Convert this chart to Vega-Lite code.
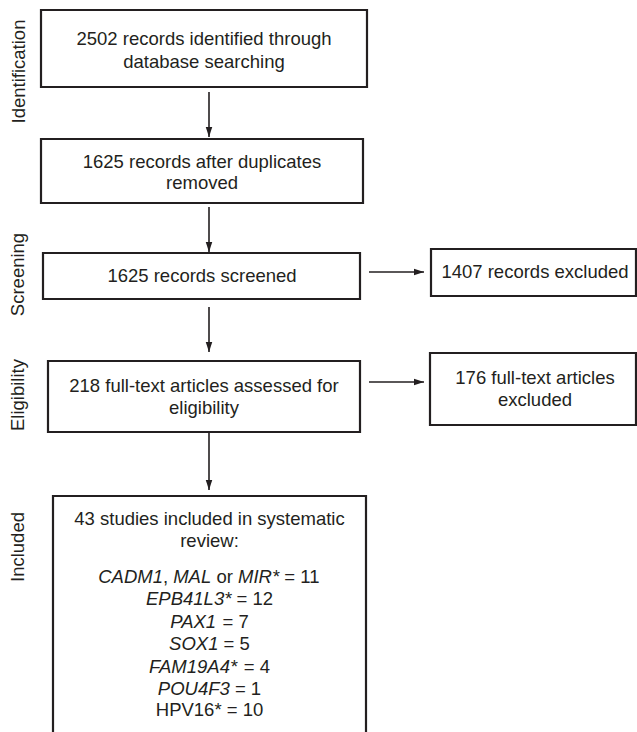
{
  "$schema": "https://vega.github.io/schema/vega-lite/v6.json",
  "width": 637,
  "height": 732,
  "padding": 0,
  "autosize": {"type": "none"},
  "config": {"view": {"stroke": null}},
  "datasets": {
    "boxes": [
      {"box": "identified", "x1": 41, "x2": 367, "y1": 10, "y2": 87},
      {"box": "duplicates removed", "x1": 41, "x2": 363, "y1": 139, "y2": 203},
      {"box": "screened", "x1": 43, "x2": 360, "y1": 253, "y2": 299},
      {"box": "assessed", "x1": 48, "x2": 360, "y1": 361, "y2": 432},
      {"box": "included", "x1": 53, "x2": 366, "y1": 496, "y2": 760},
      {"box": "records excluded", "x1": 431, "x2": 636, "y1": 249, "y2": 296},
      {"box": "articles excluded", "x1": 430, "x2": 636, "y1": 353, "y2": 425}
    ],
    "arrows": [
      {"dir": "down", "x1": 209, "y1": 92, "x2": 209, "y2": 137},
      {"dir": "down", "x1": 209, "y1": 207, "x2": 209, "y2": 252},
      {"dir": "down", "x1": 209, "y1": 307, "x2": 209, "y2": 352},
      {"dir": "down", "x1": 209, "y1": 432, "x2": 209, "y2": 490},
      {"dir": "right", "x1": 369, "y1": 272, "x2": 424, "y2": 272},
      {"dir": "right", "x1": 369, "y1": 382, "x2": 424, "y2": 382}
    ],
    "labels": [
      {"role": "box", "text": "2502 records identified through", "x": 204, "y": 39},
      {"role": "box", "text": "database searching", "x": 204, "y": 62},
      {"role": "box", "text": "1625 records after duplicates", "x": 202, "y": 162},
      {"role": "box", "text": "removed", "x": 202, "y": 183},
      {"role": "box", "text": "1625 records screened", "x": 202, "y": 276},
      {"role": "box", "text": "218 full-text articles assessed for", "x": 204, "y": 386},
      {"role": "box", "text": "eligibility", "x": 204, "y": 408},
      {"role": "box", "text": "1407 records excluded", "x": 535, "y": 272},
      {"role": "box", "text": "176 full-text articles", "x": 535, "y": 378},
      {"role": "box", "text": "excluded", "x": 535, "y": 400},
      {"role": "box", "text": "43 studies included in systematic", "x": 209.5, "y": 519},
      {"role": "box", "text": "review:", "x": 209.5, "y": 541},
      {"role": "box", "text": "HPV16* = 10", "x": 209.5, "y": 710},
      {"role": "stage", "text": "Identification", "x": 18.5, "y": 71.5},
      {"role": "stage", "text": "Screening", "x": 18, "y": 274.5},
      {"role": "stage", "text": "Eligibility", "x": 18, "y": 395},
      {"role": "stage", "text": "Included", "x": 18, "y": 547},
      {"role": "gene", "text": "CADM1", "x": 98.2, "y": 577},
      {"role": "count", "text": ",", "x": 163, "y": 577},
      {"role": "gene", "text": "MAL", "x": 173.2, "y": 577},
      {"role": "count", "text": "or", "x": 216.4, "y": 577},
      {"role": "gene", "text": "MIR*", "x": 238, "y": 577},
      {"role": "count", "text": "= 11", "x": 284.3, "y": 577},
      {"role": "gene", "text": "EPB41L3*", "x": 146, "y": 599},
      {"role": "count", "text": "= 12", "x": 236.5, "y": 599},
      {"role": "gene", "text": "PAX1", "x": 170.2, "y": 622},
      {"role": "count", "text": "= 7", "x": 222.6, "y": 622},
      {"role": "gene", "text": "SOX1", "x": 169.1, "y": 644},
      {"role": "count", "text": "= 5", "x": 223.6, "y": 644},
      {"role": "gene", "text": "FAM19A4*", "x": 149.1, "y": 667},
      {"role": "count", "text": "= 4", "x": 243.7, "y": 667},
      {"role": "gene", "text": "POU4F3", "x": 157.8, "y": 689},
      {"role": "count", "text": "= 1", "x": 234.9, "y": 689}
    ]
  },
  "layer": [
    {
      "data": {"name": "boxes"},
      "mark": {"type": "rect", "fill": "white", "stroke": "#231f20", "strokeWidth": 2.2, "clip": true},
      "encoding": {
        "x": {"field": "x1", "type": "quantitative", "scale": {"domain": [0, 637], "nice": false, "zero": false}, "axis": null},
        "x2": {"field": "x2"},
        "y": {"field": "y1", "type": "quantitative", "scale": {"domain": [0, 732], "nice": false, "zero": false, "reverse": true}, "axis": null},
        "y2": {"field": "y2"}
      }
    },
    {
      "data": {"name": "arrows"},
      "mark": {"type": "rule", "stroke": "#231f20", "strokeWidth": 1.6},
      "encoding": {
        "x": {"field": "x1", "type": "quantitative", "scale": {"domain": [0, 637], "nice": false, "zero": false}, "axis": null},
        "x2": {"field": "x2"},
        "y": {"field": "y1", "type": "quantitative", "scale": {"domain": [0, 732], "nice": false, "zero": false, "reverse": true}, "axis": null},
        "y2": {"field": "y2"}
      }
    },
    {
      "data": {"name": "arrows"},
      "transform": [{"filter": "datum.dir === 'down'"}],
      "mark": {"type": "point", "shape": "M -0.65 -1 L 0.65 -1 L 0 1 Z", "size": 100, "filled": true, "fill": "#231f20", "strokeWidth": 0, "opacity": 1, "yOffset": -5},
      "encoding": {
        "x": {"field": "x2", "type": "quantitative", "scale": {"domain": [0, 637], "nice": false, "zero": false}, "axis": null},
        "y": {"field": "y2", "type": "quantitative", "scale": {"domain": [0, 732], "nice": false, "zero": false, "reverse": true}, "axis": null}
      }
    },
    {
      "data": {"name": "arrows"},
      "transform": [{"filter": "datum.dir === 'right'"}],
      "mark": {"type": "point", "shape": "M -1 -0.65 L 1 0 L -1 0.65 Z", "size": 100, "filled": true, "fill": "#231f20", "strokeWidth": 0, "opacity": 1, "xOffset": -5},
      "encoding": {
        "x": {"field": "x2", "type": "quantitative", "scale": {"domain": [0, 637], "nice": false, "zero": false}, "axis": null},
        "y": {"field": "y2", "type": "quantitative", "scale": {"domain": [0, 732], "nice": false, "zero": false, "reverse": true}, "axis": null}
      }
    },
    {
      "data": {"name": "labels"},
      "transform": [{"filter": "datum.role === 'box'"}],
      "mark": {"type": "text", "font": "Liberation Sans", "fontSize": 18.5, "align": "center", "baseline": "middle", "color": "#231f20"},
      "encoding": {
        "x": {"field": "x", "type": "quantitative", "scale": {"domain": [0, 637], "nice": false, "zero": false}, "axis": null},
        "y": {"field": "y", "type": "quantitative", "scale": {"domain": [0, 732], "nice": false, "zero": false, "reverse": true}, "axis": null},
        "text": {"field": "text"}
      }
    },
    {
      "data": {"name": "labels"},
      "transform": [{"filter": "datum.role === 'stage'"}],
      "mark": {"type": "text", "font": "Liberation Sans", "fontSize": 18.5, "align": "center", "baseline": "middle", "angle": 270, "color": "#231f20"},
      "encoding": {
        "x": {"field": "x", "type": "quantitative", "scale": {"domain": [0, 637], "nice": false, "zero": false}, "axis": null},
        "y": {"field": "y", "type": "quantitative", "scale": {"domain": [0, 732], "nice": false, "zero": false, "reverse": true}, "axis": null},
        "text": {"field": "text"}
      }
    },
    {
      "data": {"name": "labels"},
      "transform": [{"filter": "datum.role === 'gene'"}],
      "mark": {"type": "text", "font": "Liberation Sans", "fontSize": 18.5, "fontStyle": "italic", "align": "left", "baseline": "middle", "color": "#231f20"},
      "encoding": {
        "x": {"field": "x", "type": "quantitative", "scale": {"domain": [0, 637], "nice": false, "zero": false}, "axis": null},
        "y": {"field": "y", "type": "quantitative", "scale": {"domain": [0, 732], "nice": false, "zero": false, "reverse": true}, "axis": null},
        "text": {"field": "text"}
      }
    },
    {
      "data": {"name": "labels"},
      "transform": [{"filter": "datum.role === 'count'"}],
      "mark": {"type": "text", "font": "Liberation Sans", "fontSize": 18.5, "align": "left", "baseline": "middle", "color": "#231f20"},
      "encoding": {
        "x": {"field": "x", "type": "quantitative", "scale": {"domain": [0, 637], "nice": false, "zero": false}, "axis": null},
        "y": {"field": "y", "type": "quantitative", "scale": {"domain": [0, 732], "nice": false, "zero": false, "reverse": true}, "axis": null},
        "text": {"field": "text"}
      }
    }
  ]
}
